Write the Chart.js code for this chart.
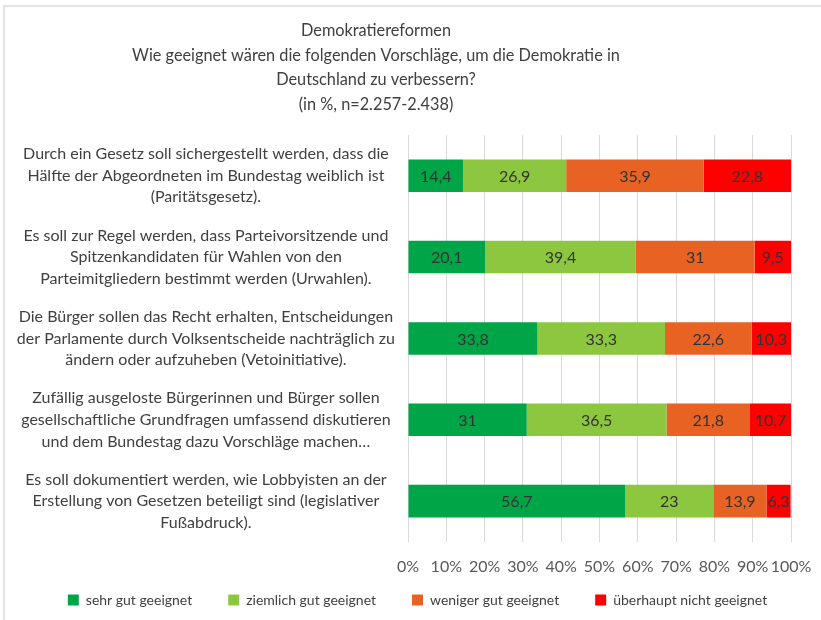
<!DOCTYPE html>
<html>
<head>
<meta charset="utf-8">
<script src="https://cdn.jsdelivr.net/npm/chart.js@4.4.0/dist/chart.umd.min.js"></script>
<style>
  html, body { margin: 0; padding: 0; background: #fff; }
  #wrap { position: absolute; left: 0; top: 0; width: 821px; height: 620px; }
  #frame { position: absolute; left: 3px; top: 5px; width: 830px; height: 630px; border-left: 2px solid #e3e3e3; border-top: 2px solid #e3e3e3; }
  canvas { position: absolute; left: 0; top: 0; }
</style>
</head>
<body>
<div id="wrap">
  <div id="frame"></div>
  <canvas id="c" width="821" height="620"></canvas>
</div>
<script>
const titleLines = [
  "Demokratiereformen",
  "Wie geeignet wären die folgenden Vorschläge, um die Demokratie in",
  "Deutschland zu verbessern?",
  "(in %, n=2.257-2.438)"
];
const categories = [
  ["Durch ein Gesetz soll sichergestellt werden, dass die", "Hälfte der Abgeordneten im Bundestag weiblich ist", "(Paritätsgesetz)."],
  ["Es soll zur Regel werden, dass Parteivorsitzende und", "Spitzenkandidaten für Wahlen von den", "Parteimitgliedern bestimmt werden (Urwahlen)."],
  ["Die Bürger sollen das Recht erhalten, Entscheidungen", "der Parlamente durch Volksentscheide nachträglich zu", "ändern oder aufzuheben (Vetoinitiative)."],
  ["Zufällig ausgeloste Bürgerinnen und Bürger sollen", "gesellschaftliche Grundfragen umfassend diskutieren", "und dem Bundestag dazu Vorschläge machen…"],
  ["Es soll dokumentiert werden, wie Lobbyisten an der", "Erstellung von Gesetzen beteiligt sind (legislativer", "Fußabdruck)."]
];
const seriesNames = ["sehr gut geeignet", "ziemlich gut geeignet", "weniger gut geeignet", "überhaupt nicht geeignet"];
const sehrGut         = [14.4, 20.1, 33.8, 31.0, 56.7];
const ziemlichGut     = [26.9, 39.4, 33.3, 36.5, 23.0];
const wenigerGut      = [35.9, 31.0, 22.6, 21.8, 13.9];
const ueberhauptNicht = [22.8, 9.5, 10.3, 10.7, 6.3];
const xTicks = [0, 10, 20, 30, 40, 50, 60, 70, 80, 90, 100];

const colors = ["#00A548", "#8DC63F", "#E86224", "#FF0000"];
const FONT = "Lato, 'Open Sans', sans-serif";

const valueLabels = {
  id: 'valueLabels',
  afterDatasetsDraw(chart) {
    const ctx = chart.ctx;
    ctx.save();
    ctx.font = "16px " + FONT;
    ctx.fillStyle = "#333333";
    ctx.textAlign = "center";
    ctx.textBaseline = "middle";
    chart.data.datasets.forEach((ds, di) => {
      const meta = chart.getDatasetMeta(di);
      meta.data.forEach((el, i) => {
        const v = ds.data[i];
        const txt = String(v).replace('.', ',');
        const cx = (el.x + el.base) / 2;
        ctx.fillText(txt, cx, el.y + 1);
      });
    });
    ctx.restore();
  }
};

const titlePlugin = {
  id: 'customTitle',
  afterDraw(chart) {
    const ctx = chart.ctx;
    ctx.save();
    ctx.font = "16.3px " + FONT;
    ctx.fillStyle = "#404040";
    ctx.textAlign = "center";
    ctx.textBaseline = "middle";
    titleLines.forEach((t, i) => ctx.fillText(t, 376, 31 + i * 24.5));
    ctx.restore();
  }
};

const legendShift = {
  id: 'legendShift',
  afterLayout(chart) {
    const lg = chart.legend;
    if (lg) { lg.left += 18; lg.right += 18; lg.top -= 34; lg.bottom -= 34; }
  }
};

new Chart(document.getElementById('c'), {
  type: 'bar',
  data: {
    labels: categories,
    datasets: [
      { label: seriesNames[0], data: sehrGut, backgroundColor: colors[0] },
      { label: seriesNames[1], data: ziemlichGut, backgroundColor: colors[1] },
      { label: seriesNames[2], data: wenigerGut, backgroundColor: colors[2] },
      { label: seriesNames[3], data: ueberhauptNicht, backgroundColor: colors[3] }
    ]
  },
  options: {
    indexAxis: 'y',
    responsive: false,
    animation: false,
    categoryPercentage: 0.4,
    barPercentage: 1.0,
    layout: { padding: { top: 135, left: 8, right: 30, bottom: -31 } },
    scales: {
      x: {
        stacked: true,
        min: 0, max: 100,
        afterBuildTicks(axis) { axis.ticks = xTicks.map(v => ({ value: v })); },
        afterFit(axis) { axis.paddingRight = 0; axis.paddingLeft = 0; },
        ticks: {
          autoSkip: false,
          callback: v => v + '%',
          font: { family: FONT, size: 16 },
          color: '#595959',
          padding: 15,
          maxRotation: 0
        },
        grid: { color: '#d9d9d9', drawTicks: false },
        border: { display: false }
      },
      y: {
        stacked: true,
        afterFit(axis) { axis.width = 400; },
        ticks: {
          autoSkip: false,
          crossAlign: 'center',
          font: { family: FONT, size: 16, lineHeight: 1.35 },
          color: '#404040',
          padding: 5
        },
        grid: { display: false },
        border: { display: false }
      }
    },
    plugins: {
      legend: {
        position: 'bottom',
        labels: {
          boxWidth: 11, boxHeight: 11,
          font: { family: FONT, size: 14 },
          color: '#404040',
          padding: 36
        }
      },
      tooltip: { enabled: false },
      title: { display: false }
    }
  },
  plugins: [valueLabels, titlePlugin, legendShift]
});
</script>
</body>
</html>
